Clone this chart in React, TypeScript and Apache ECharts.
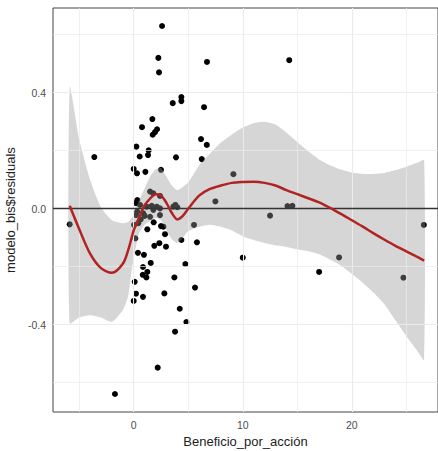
import React, { useEffect, useRef } from "react";
import * as echarts from "echarts";

// Scatter points: Beneficio_por_acción vs modelo_bis$residuals
const pointX = [
  2.6, 2.26, 2.32, 6.72, 14.26, 4.37, 4.37, 3.58, 6.45, 1.71,
  0.76, 2.14, 1.95, 1.74, 6.17, 6.7, 0.24, 1.37, 1.31, 0.55,
  3.88, 6.24, -3.61, 0.0, 0.3, 1.07, 2.5, 9.14, 7.49, 12.5,
  14.1, 14.55, 26.6, 10.0, 18.83, 17.0, 24.73, -5.87, -1.72, 2.2,
  3.79, 4.83, 4.22, 5.62, 2.81, 3.73, 4.74, 5.8, 4.37, 5.53,
  0.0, 0.21, 0.85, 0.09, 0.83, 1.25, 1.16, 0.85, 1.56, 0.39,
  0.94, 2.96, 1.89, 2.35, 2.87, 2.5, 2.72, 1.83, 1.25, 0.15,
  0.42, 0.64, 1.5, 1.8, 0.33, 0.58, 1.19, 1.65, 2.11, 2.41,
  1.8, 4.0, 3.63, 0.21, 0.88, 1.5, 0.03, 2.41, 2.41, 0.21,
  1.0, 0.33, 3.82
];
const pointY = [
  0.63, 0.52, 0.47, 0.506, 0.512, 0.385, 0.371, 0.364, 0.35, 0.309,
  0.281, 0.274, 0.264, 0.255, 0.24, 0.22, 0.214, 0.201, 0.185, 0.18,
  0.177, 0.171, 0.178, 0.137, 0.122, 0.127, 0.134, 0.119, 0.025, -0.024,
  0.009, 0.01, -0.056, -0.169, -0.168, -0.218, -0.238, -0.054, -0.639, -0.548,
  -0.424, -0.391, -0.345, -0.272, -0.292, -0.237, -0.191, -0.116, -0.108, -0.056,
  -0.318, -0.293, -0.304, -0.252, -0.228, -0.218, -0.237, -0.201, -0.187, -0.152,
  -0.159, -0.131, -0.128, -0.119, -0.088, -0.06, -0.062, -0.047, -0.071, -0.102,
  -0.05, -0.037, 0.059, 0.053, 0.03, 0.013, 0.007, 0.01, 0.007, 0.001,
  -0.004, 0.005, 0.007, -0.022, -0.016, -0.028, -0.056, -0.022, 0.044, 0.019,
  -0.025, -0.01, 0.013
];

// Loess fit line
const fitX = [
  -5.87, -5, -4, -3, -2, -1, -0.5, 0, 0.5, 1, 1.5, 2, 2.5, 3, 3.5, 4, 4.5, 5,
  6, 7, 8, 9, 10, 11, 12, 13, 14, 15, 16, 17, 18, 19, 20, 21, 22, 23, 24, 25, 26, 26.63
];
const fitY = [
  0.01, -0.07, -0.155, -0.205, -0.221, -0.19, -0.142, -0.075, -0.03, 0.012, 0.035, 0.05, 0.046, 0.02, -0.015, -0.037, -0.025, 0.0,
  0.045, 0.068, 0.08, 0.089, 0.092, 0.093, 0.089, 0.08, 0.064, 0.05, 0.036, 0.022, 0.003, -0.018, -0.04, -0.062, -0.085, -0.107, -0.128, -0.147, -0.166, -0.179
];

// Confidence band
const bandX = [
  -5.87, -5, -4, -3, -2, -1, -0.5, -0.25, 0, 0.5, 1, 1.5, 2, 2.5, 3, 3.5, 4, 4.5, 5,
  6, 7, 8, 9, 10, 11, 12, 13, 14, 15, 16, 17, 18, 19, 20, 21, 22, 23, 24, 25, 26, 26.63
];
const bandUpper = [
  0.42, 0.24, 0.1, 0.005, -0.04, -0.05, -0.045, -0.035, -0.02, 0.03, 0.07, 0.11, 0.135, 0.14, 0.11, 0.08, 0.064, 0.075, 0.09,
  0.15, 0.19, 0.228, 0.256, 0.28, 0.295, 0.3, 0.29, 0.262, 0.23, 0.198, 0.17, 0.15, 0.135, 0.125, 0.12, 0.12, 0.123, 0.133, 0.145, 0.158, 0.168
];
const bandLower = [
  -0.395, -0.375, -0.367, -0.375, -0.39, -0.35, -0.3, -0.23, -0.17, -0.085, -0.055, -0.042, -0.032, -0.04, -0.075, -0.105, -0.118, -0.1, -0.078,
  -0.062, -0.055, -0.062, -0.075, -0.095, -0.108, -0.118, -0.126, -0.132, -0.14, -0.147, -0.157, -0.175, -0.196, -0.225, -0.255, -0.29, -0.33, -0.385, -0.44, -0.49, -0.522
];

const xTicks = [0, 10, 20];
const xMinorGrid = [-5, 5, 15, 25];
const yTicks = [-0.4, 0, 0.4];
const yMinorGrid = [-0.6, -0.2, 0.2, 0.6];

const FONT = "'Liberation Sans', Arial, Helvetica, sans-serif";

export default function App() {
  const ref = useRef<HTMLDivElement>(null);
  useEffect(() => {
    if (!ref.current) return;
    const chart = echarts.init(ref.current, null, { renderer: "svg" });
    const points = pointX.map((x, i) => [x, pointY[i]]);
    const fit = fitX.map((x, i) => [x, fitY[i]]);
    const gridLine = (w: number) => ({ color: "#ebebeb", width: w, type: "solid" });
    chart.setOption({
      animation: false,
      backgroundColor: "#ffffff",
      grid: {
        left: 53,
        right: 0,
        top: 8,
        bottom: 39,
        show: true,
        borderColor: "#444",
        borderWidth: 1,
        containLabel: false,
        outerBoundsMode: "none",
      },
      xAxis: {
        type: "value",
        min: -7.4,
        max: 27.9,
        name: "Beneficio_por_acción",
        nameLocation: "middle",
        nameGap: 21,
        nameTextStyle: { color: "#222", fontSize: 13, fontFamily: FONT },
        axisLine: { show: false },
        axisTick: { show: true, customValues: xTicks, length: 3, lineStyle: { color: "#333" } },
        axisLabel: { customValues: xTicks, color: "#4d4d4d", fontSize: 10.5, fontFamily: FONT, margin: 7 },
        splitLine: { show: false },
      },
      yAxis: {
        type: "value",
        min: -0.701,
        max: 0.692,
        name: "modelo_bis$residuals",
        nameLocation: "middle",
        nameGap: 32,
        nameTextStyle: { color: "#222", fontSize: 13, fontFamily: FONT },
        axisLine: { show: false },
        axisTick: { show: true, customValues: yTicks, length: 3, lineStyle: { color: "#333" } },
        axisLabel: {
          customValues: yTicks,
          color: "#4d4d4d",
          fontSize: 10.5,
          fontFamily: FONT,
          margin: 7,
          formatter: (v: number) => v.toFixed(1),
        },
        splitLine: { show: false },
      },
      series: [
        {
          type: "scatter",
          data: [],
          silent: true,
          z: 0,
          markLine: {
            silent: true,
            symbol: "none",
            label: { show: false },
            animation: false,
            data: [
              ...xTicks.map((v) => ({ xAxis: v, lineStyle: gridLine(1.1) })),
              ...xMinorGrid.map((v) => ({ xAxis: v, lineStyle: gridLine(0.7) })),
              ...yTicks.map((v) => ({ yAxis: v, lineStyle: gridLine(1.1) })),
              ...yMinorGrid.map((v) => ({ yAxis: v, lineStyle: gridLine(0.7) })),
            ],
          },
        },
        {
          type: "scatter",
          data: points,
          symbolSize: 6,
          itemStyle: { color: "#000000", opacity: 1 },
          z: 2,
          markLine: {
            silent: true,
            symbol: "none",
            label: { show: false },
            animation: false,
            lineStyle: { color: "#333", width: 1.3, type: "solid" },
            data: [{ yAxis: 0 }],
          },
        },
        {
          type: "custom",
          z: 4,
          silent: true,
          data: [[bandX[0], bandUpper[0]]],
          renderItem: (params: any, api: any) => {
            const up = bandX.map((x, i) => api.coord([x, bandUpper[i]]));
            const lo = bandX.map((x, i) => api.coord([x, bandLower[i]])).reverse();
            return {
              type: "polygon",
              shape: { points: up.concat(lo), smooth: 0.2 },
              style: { fill: "rgba(153,153,153,0.4)", stroke: "none" },
            };
          },
        },
        {
          type: "line",
          data: fit,
          showSymbol: false,
          smooth: 0.3,
          z: 5,
          lineStyle: { color: "#b22222", width: 2.5 },
        },
      ],
    });
    return () => chart.dispose();
  }, []);
  return (
    <div
      ref={ref}
      style={{ position: "fixed", left: 0, top: 0, width: 438, height: 451 }}
    />
  );
}
